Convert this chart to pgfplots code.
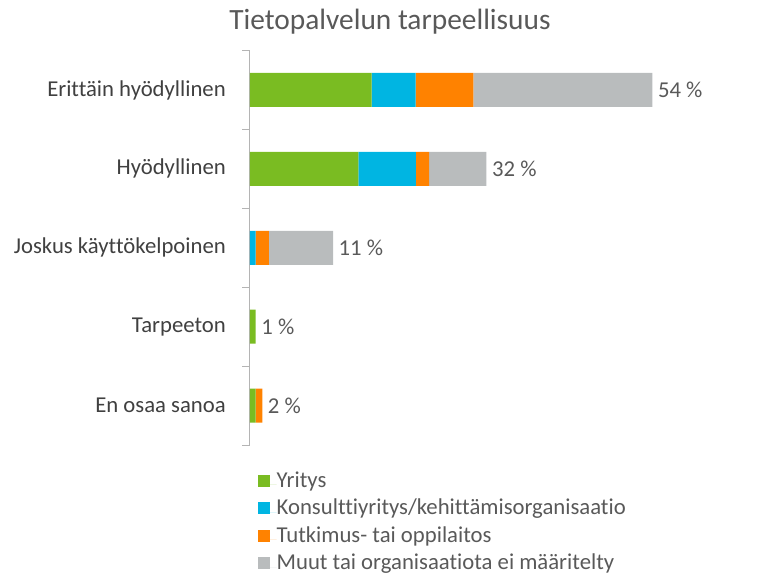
\documentclass[border=0pt]{standalone}
\usepackage{pgfplots}
\pgfplotsset{compat=1.18}
\usepackage{fontspec}
\setmainfont{Carlito}[Ligatures=NoCommon]
\definecolor{cgreen}{RGB}{122,188,34}
\definecolor{cblue}{RGB}{0,181,226}
\definecolor{corange}{RGB}{255,130,0}
\definecolor{cgray}{RGB}{185,188,189}
\definecolor{txt}{RGB}{64,64,64}
\definecolor{txt2}{RGB}{89,89,89}
\definecolor{axgray}{RGB}{180,180,180}
\pgfplotsset{base/.style={
  at={(0,0)}, anchor=south west,
  scale only axis,
  width=484bp, height=394.5bp,
  xmin=0, xmax=65,
  ymin=-0.5, ymax=4.5,
  y dir=reverse}}
\begin{document}
\begin{tikzpicture}
\path[use as bounding box] (-250bp,-131bp) rectangle (509bp,445bp);
\node[anchor=base, text=txt2, font=\fontsize{29.5}{32}\selectfont, inner sep=0pt] at (140bp,415bp) {Tietopalvelun tarpeellisuus};
\begin{axis}[
  base,
  xbar stacked,
  bar width=34bp,
  axis x line=none,
  axis y line*=left,
  y axis line style={draw=axgray, line width=1pt},
  ytick={0,1,2,3,4},
  yticklabels={Erittäin hyödyllinen, Hyödyllinen, Joskus käyttökelpoinen, Tarpeeton, En osaa sanoa},
  major tick length=0pt,
  yticklabel style={font=\fontsize{22.8}{26}\selectfont, text=txt, inner sep=0pt, anchor=east, xshift=-24bp},
  extra y ticks={-0.5,0.5,1.5,2.5,3.5,4.5},
  extra y tick labels={},
  extra y tick style={major tick length=7.5bp, tick align=outside, tick style={draw=axgray, line width=1pt}},
  legend style={at={(axis description cs:0,0)}, anchor=north west, xshift=8bp, yshift=-26bp,
    draw=none, fill=none, inner sep=0pt, row sep=0pt,
    font=\fontsize{22.8}{26}\selectfont, text=txt2,
    nodes={inner sep=0pt, text height=16bp, text depth=11.5bp}},
  legend cell align=left,
  legend image code/.code={\fill[#1] (0bp,-2bp) rectangle (12bp,10bp); \path (0bp,0bp) -- (18.5bp,0bp);},
]
\addplot[fill=cgreen, draw=none] coordinates {(16.35,0) (14.55,1) (0,2) (0.76,3) (0.76,4)};
\addplot[fill=cblue, draw=none] coordinates {(5.9,0) (7.71,1) (0.76,2) (0,3) (0,4)};
\addplot[fill=corange, draw=none] coordinates {(7.74,0) (1.79,1) (1.79,2) (0,3) (0.89,4)};
\addplot[fill=cgray, draw=none] coordinates {(24.04,0) (7.70,1) (8.6,2) (0,3) (0,4)};
\legend{Yritys, Konsulttiyritys/kehittämisorganisaatio, Tutkimus- tai oppilaitos, Muut tai organisaatiota ei määritelty}
\end{axis}
\begin{axis}[base, hide axis, clip=false]
\addplot[only marks, mark=none, point meta=explicit symbolic,
  nodes near coords, nodes near coords style={anchor=west, inner sep=0pt, xshift=5.5bp, font=\fontsize{22.8}{26}\selectfont, text=txt2}]
  coordinates {(54.03,0) [54 \%] (31.75,1) [32 \%] (11.15,2) [11 \%] (0.76,3) [1 \%] (1.65,4) [2 \%]};
\end{axis}
\end{tikzpicture}
\end{document}
